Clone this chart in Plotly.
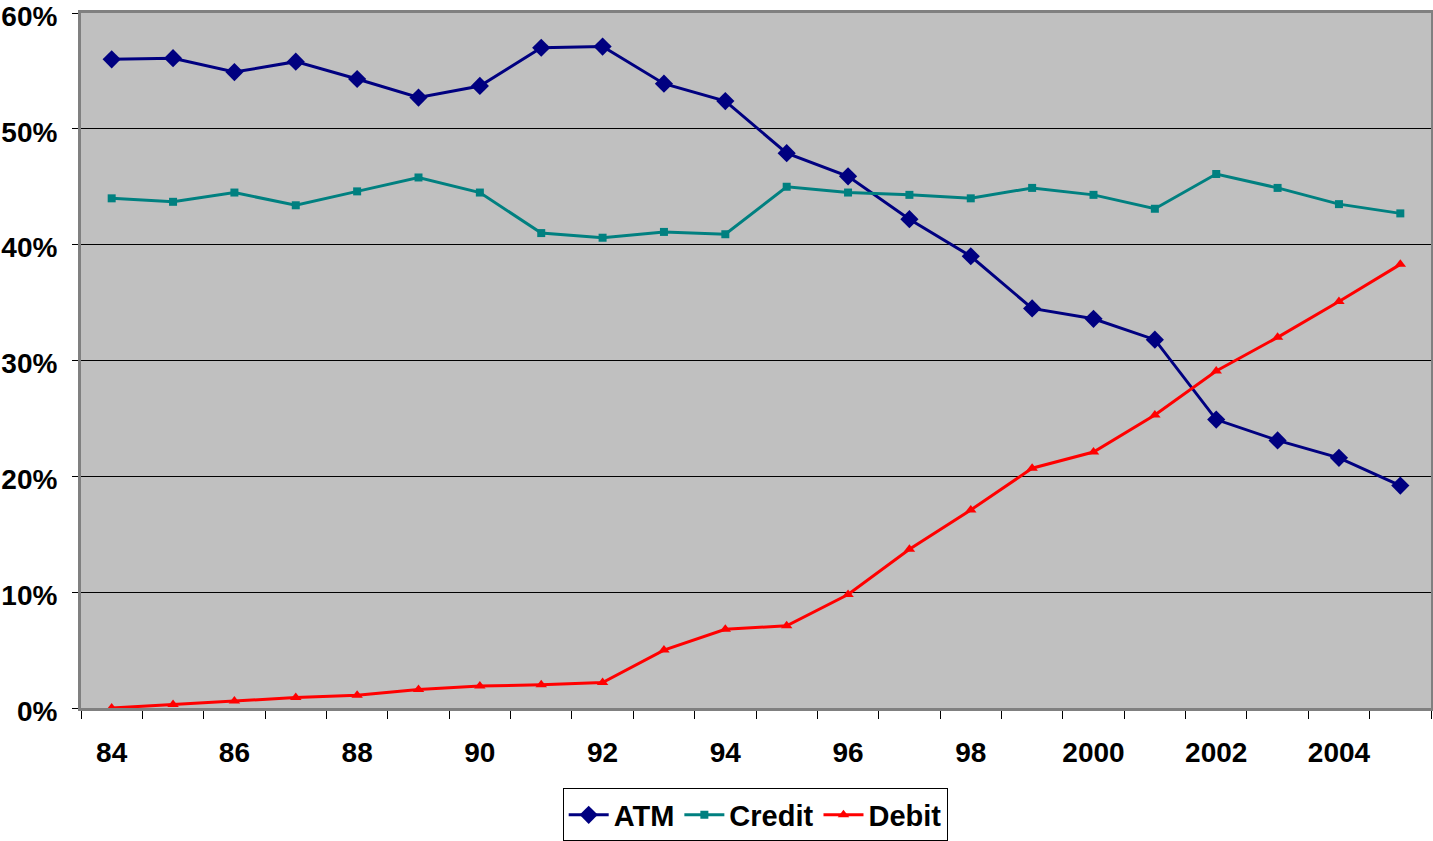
import plotly.graph_objects as go

years = ["84", "85", "86", "87", "88", "89", "90", "91", "92", "93", "94",
         "95", "96", "97", "98", "99", "2000", "2001", "2002", "2003", "2004", "2005"]
atm = [56.0, 56.1, 54.9, 55.8, 54.3, 52.7, 53.7, 57.0, 57.1, 53.9, 52.4,
       47.9, 45.9, 42.2, 39.0, 34.5, 33.6, 31.8, 24.9, 23.1, 21.6, 19.2]
credit = [44.0, 43.7, 44.5, 43.4, 44.6, 45.8, 44.5, 41.0, 40.6, 41.1, 40.9,
          45.0, 44.5, 44.3, 44.0, 44.9, 44.3, 43.1, 46.1, 44.9, 43.5, 42.7]
debit = [0.0, 0.3, 0.6, 0.9, 1.1, 1.6, 1.9, 2.0, 2.2, 5.0, 6.8,
         7.1, 9.8, 13.7, 17.1, 20.7, 22.1, 25.3, 29.1, 32.0, 35.1, 38.3]
y_ticks = [0, 10, 20, 30, 40, 50, 60]

x = list(range(len(years)))
label_idx = [i for i in x if i % 2 == 0 and i < len(years) - 1]

fig = go.Figure()
fig.add_trace(go.Scatter(x=x, y=atm, name="ATM", mode="lines+markers",
                         line=dict(color="#000080", width=3),
                         marker=dict(symbol="diamond", size=14, color="#000080")))
fig.add_trace(go.Scatter(x=x, y=credit, name="Credit", mode="lines+markers",
                         line=dict(color="#008080", width=3),
                         marker=dict(symbol="square", size=8, color="#008080")))
fig.add_trace(go.Scatter(x=x, y=debit, name="Debit", mode="lines+markers",
                         line=dict(color="#FF0000", width=3),
                         marker=dict(symbol="triangle-up", size=10, color="#FF0000")))

fig.update_layout(
    width=1433, height=841,
    margin=dict(l=81, r=2, t=13, b=133),
    paper_bgcolor="white",
    plot_bgcolor="#C0C0C0",
    font=dict(family="Liberation Sans, Arial, sans-serif", color="black"),
    showlegend=True,
    legend=dict(orientation="h", xref="container", yref="container",
                x=0.527, xanchor="center", y=0.031, yanchor="middle",
                bordercolor="black", borderwidth=1, bgcolor="white",
                font=dict(size=29, family="Liberation Sans, Arial, sans-serif", weight="bold"),
                itemwidth=40, tracegroupgap=0),
    xaxis=dict(range=[-0.5, len(years) - 0.5], automargin=False,
               tickmode="array", tickvals=label_idx,
               ticktext=[f"<b>{years[i]}</b>" for i in label_idx],
               ticks="", ticklabelstandoff=17,
               tickfont=dict(size=28),
               showgrid=False, zeroline=False,
               showline=True, mirror=True, linecolor="#808080", linewidth=3,
               minor=dict(ticks="outside", ticklen=8, tickcolor="black",
                          tick0=-0.5, dtick=1, showgrid=False)),
    yaxis=dict(range=[0, 60], automargin=False, tickmode="array", tickvals=y_ticks,
               ticktext=[f"<b>{v}%</b>" for v in y_ticks],
               ticks="outside", ticklen=6, tickcolor="black",
               ticklabelstandoff=9, ticklabelshift=3, ticklabeloverflow="allow",
               tickfont=dict(size=28),
               showgrid=True, gridcolor="black", gridwidth=1,
               zeroline=False,
               showline=True, mirror=True, linecolor="#808080", linewidth=3),
)

fig.write_html("out.html", config={"displayModeBar": False},
               post_script="document.body.style.margin='0';document.body.style.padding='0';")
